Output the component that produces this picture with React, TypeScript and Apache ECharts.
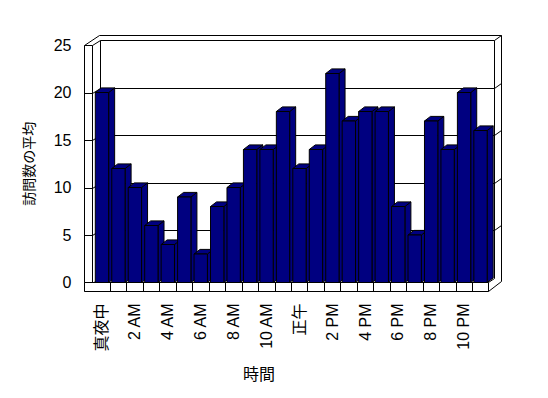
import React, { useEffect, useRef } from "react";
import * as echarts from "echarts";

const hours = [
  "真夜中", "1 AM", "2 AM", "3 AM", "4 AM", "5 AM", "6 AM", "7 AM", "8 AM", "9 AM", "10 AM", "11 AM",
  "正午", "1 PM", "2 PM", "3 PM", "4 PM", "5 PM", "6 PM", "7 PM", "8 PM", "9 PM", "10 PM", "11 PM",
];
const visits = [20, 12, 10, 6, 4, 9, 3, 8, 10, 14, 14, 18, 12, 14, 22, 17, 18, 18, 8, 5, 17, 14, 20, 16];
const yTicks = [0, 5, 10, 15, 20, 25];

const FONT = "'Liberation Sans', 'Noto Sans CJK JP', sans-serif";
const W = 548;
const H = 398;
const GL = 93.5;
const GR = 488.5;
const GT = 45;
const GB = 282.5;

export default function App() {
  const ref = useRef<HTMLDivElement>(null);
  useEffect(() => {
    if (!ref.current) return;
    const chart = echarts.init(ref.current, undefined, { renderer: "svg" });
    const data = visits.map((v, i) => [i, v]);
    chart.setOption({
      animation: false,
      backgroundColor: "#fff",
      grid: { left: GL, right: W - GR, top: GT, bottom: H - GB, containLabel: false },
      xAxis: {
        type: "category",
        data: hours,
        axisLine: { show: false },
        axisTick: { show: false },
        axisLabel: {
          interval: 1,
          rotate: 90,
          margin: 21,
          fontSize: 16,
          color: "#000",
          fontFamily: FONT,
        },
      },
      yAxis: {
        type: "value",
        min: 0,
        max: 25,
        interval: 5,
        name: "訪問数の平均",
        nameLocation: "middle",
        nameRotate: 90,
        nameGap: 58,
        nameTextStyle: { fontSize: 14, color: "#000000", fontFamily: FONT },
        axisLine: { show: false },
        axisTick: { show: false },
        splitLine: { show: false },
        axisLabel: { margin: 22, fontSize: 16, color: "#000", fontFamily: FONT },
      },
      series: [
        {
          type: "custom",
          z: 2,
          clip: false,
          data,
          encode: { x: 0, y: 1 },
          renderItem: (params: any, api: any) => {
            const i = api.value(0);
            const v = api.value(1);
            const top = api.coord([i, v]);
            const base = api.coord([i, 0]);
            const band = api.size([1, 0])[0];
            const c = top[0];
            const x0 = c - band * 0.39;
            const x1 = c + band * 0.42;
            const yt = top[1];
            const yb = base[1];
            const dx = 6;
            const dy = 4.6;
            const style = { fill: "#000080", stroke: "#000", lineWidth: 1 };
            return {
              type: "group",
              children: [
                { type: "polygon", shape: { points: [[x1, yt], [x1 + dx, yt - dy], [x1 + dx, yb - dy], [x1, yb]] }, style },
                { type: "polygon", shape: { points: [[x0, yt], [x0 + dx, yt - dy], [x1 + dx, yt - dy], [x1, yt]] }, style },
                { type: "polygon", shape: { points: [[x0, yt], [x1, yt], [x1, yb], [x0, yb]] }, style },
              ],
            };
          },
        },
      ],
    });

    // frame decoration (walls and floor) from the axis scale
    const yOf = (v: number) => (chart.convertToPixel({ gridIndex: 0 }, [0, v]) as number[])[1];
    const band = (GR - GL) / hours.length;
    const LX = 84.5, LI = 92.5, BL = 100.5, BR = 494.5, OR = 501.5, BT = 40.5, OT = 35.5, OL = 99.5;
    const FB = 291.5;
    const DY = 5;
    const ln = (x1: number, y1: number, x2: number, y2: number, z = 0) => ({
      type: "line",
      z,
      silent: true,
      shape: { x1, y1, x2, y2 },
      style: { stroke: "#000", lineWidth: 1 },
    });
    const g: any[] = [];
    // back wall
    g.push(ln(OL, OT, OR, OT));
    g.push(ln(BL, BT, BR, BT));
    g.push(ln(BL, BT, BL, GB - DY));
    g.push(ln(BR, BT, BR, GB - 4));
    g.push(ln(OR, OT, OR, GB - 1));
    g.push(ln(BR, BT, OR, OT));
    yTicks.forEach((v) => {
      const y = Math.round(yOf(v)) + 0.5;
      if (v > 0 && v < 25) {
        g.push(ln(BL, y - DY, BR, y - DY));
        g.push(ln(BR, y - DY, OR, y - DY - 5));
      }
      if (v < 25) {
        g.push(ln(LX, y, LI, y));
        g.push(ln(LI, y, BL, y - DY));
      }
    });
    // left wall
    g.push(ln(LX, GT + 0.5, LX, FB));
    g.push(ln(LI, GT + 0.5, LI, GB));
    g.push(ln(LX, GT + 0.5, LI, GT + 0.5));
    g.push(ln(LX, GT + 0.5, OL, OT));
    g.push(ln(LI, GT + 0.5, BL, BT));
    // floor
    g.push({
      type: "rect",
      z: 5,
      silent: true,
      shape: { x: LX, y: GB, width: GR - LX, height: FB - GB },
      style: { fill: "#fff", stroke: "#000", lineWidth: 1 },
    });
    for (let k = 1; k < hours.length; k++) {
      const x = Math.round(GL + band * k) + 0.5;
      g.push(ln(x, GB, x, FB, 6));
    }
    g.push(ln(GR, GB, BR, GB - 4, 6));
    g.push(ln(GR, FB, OR, GB - 1, 6));
    g.push({
      type: "text",
      z: 6,
      x: 259,
      y: 374,
      style: {
        text: "時間",
        fontSize: 16,
        fontFamily: FONT,
        fill: "#000",
        align: "center",
        verticalAlign: "middle",
      },
    });
    chart.setOption({ graphic: { elements: g } });
    return () => chart.dispose();
  }, []);
  return (
    <div
      ref={ref}
      style={{ position: "absolute", left: 0, top: 0, width: W, height: H }}
    />
  );
}
